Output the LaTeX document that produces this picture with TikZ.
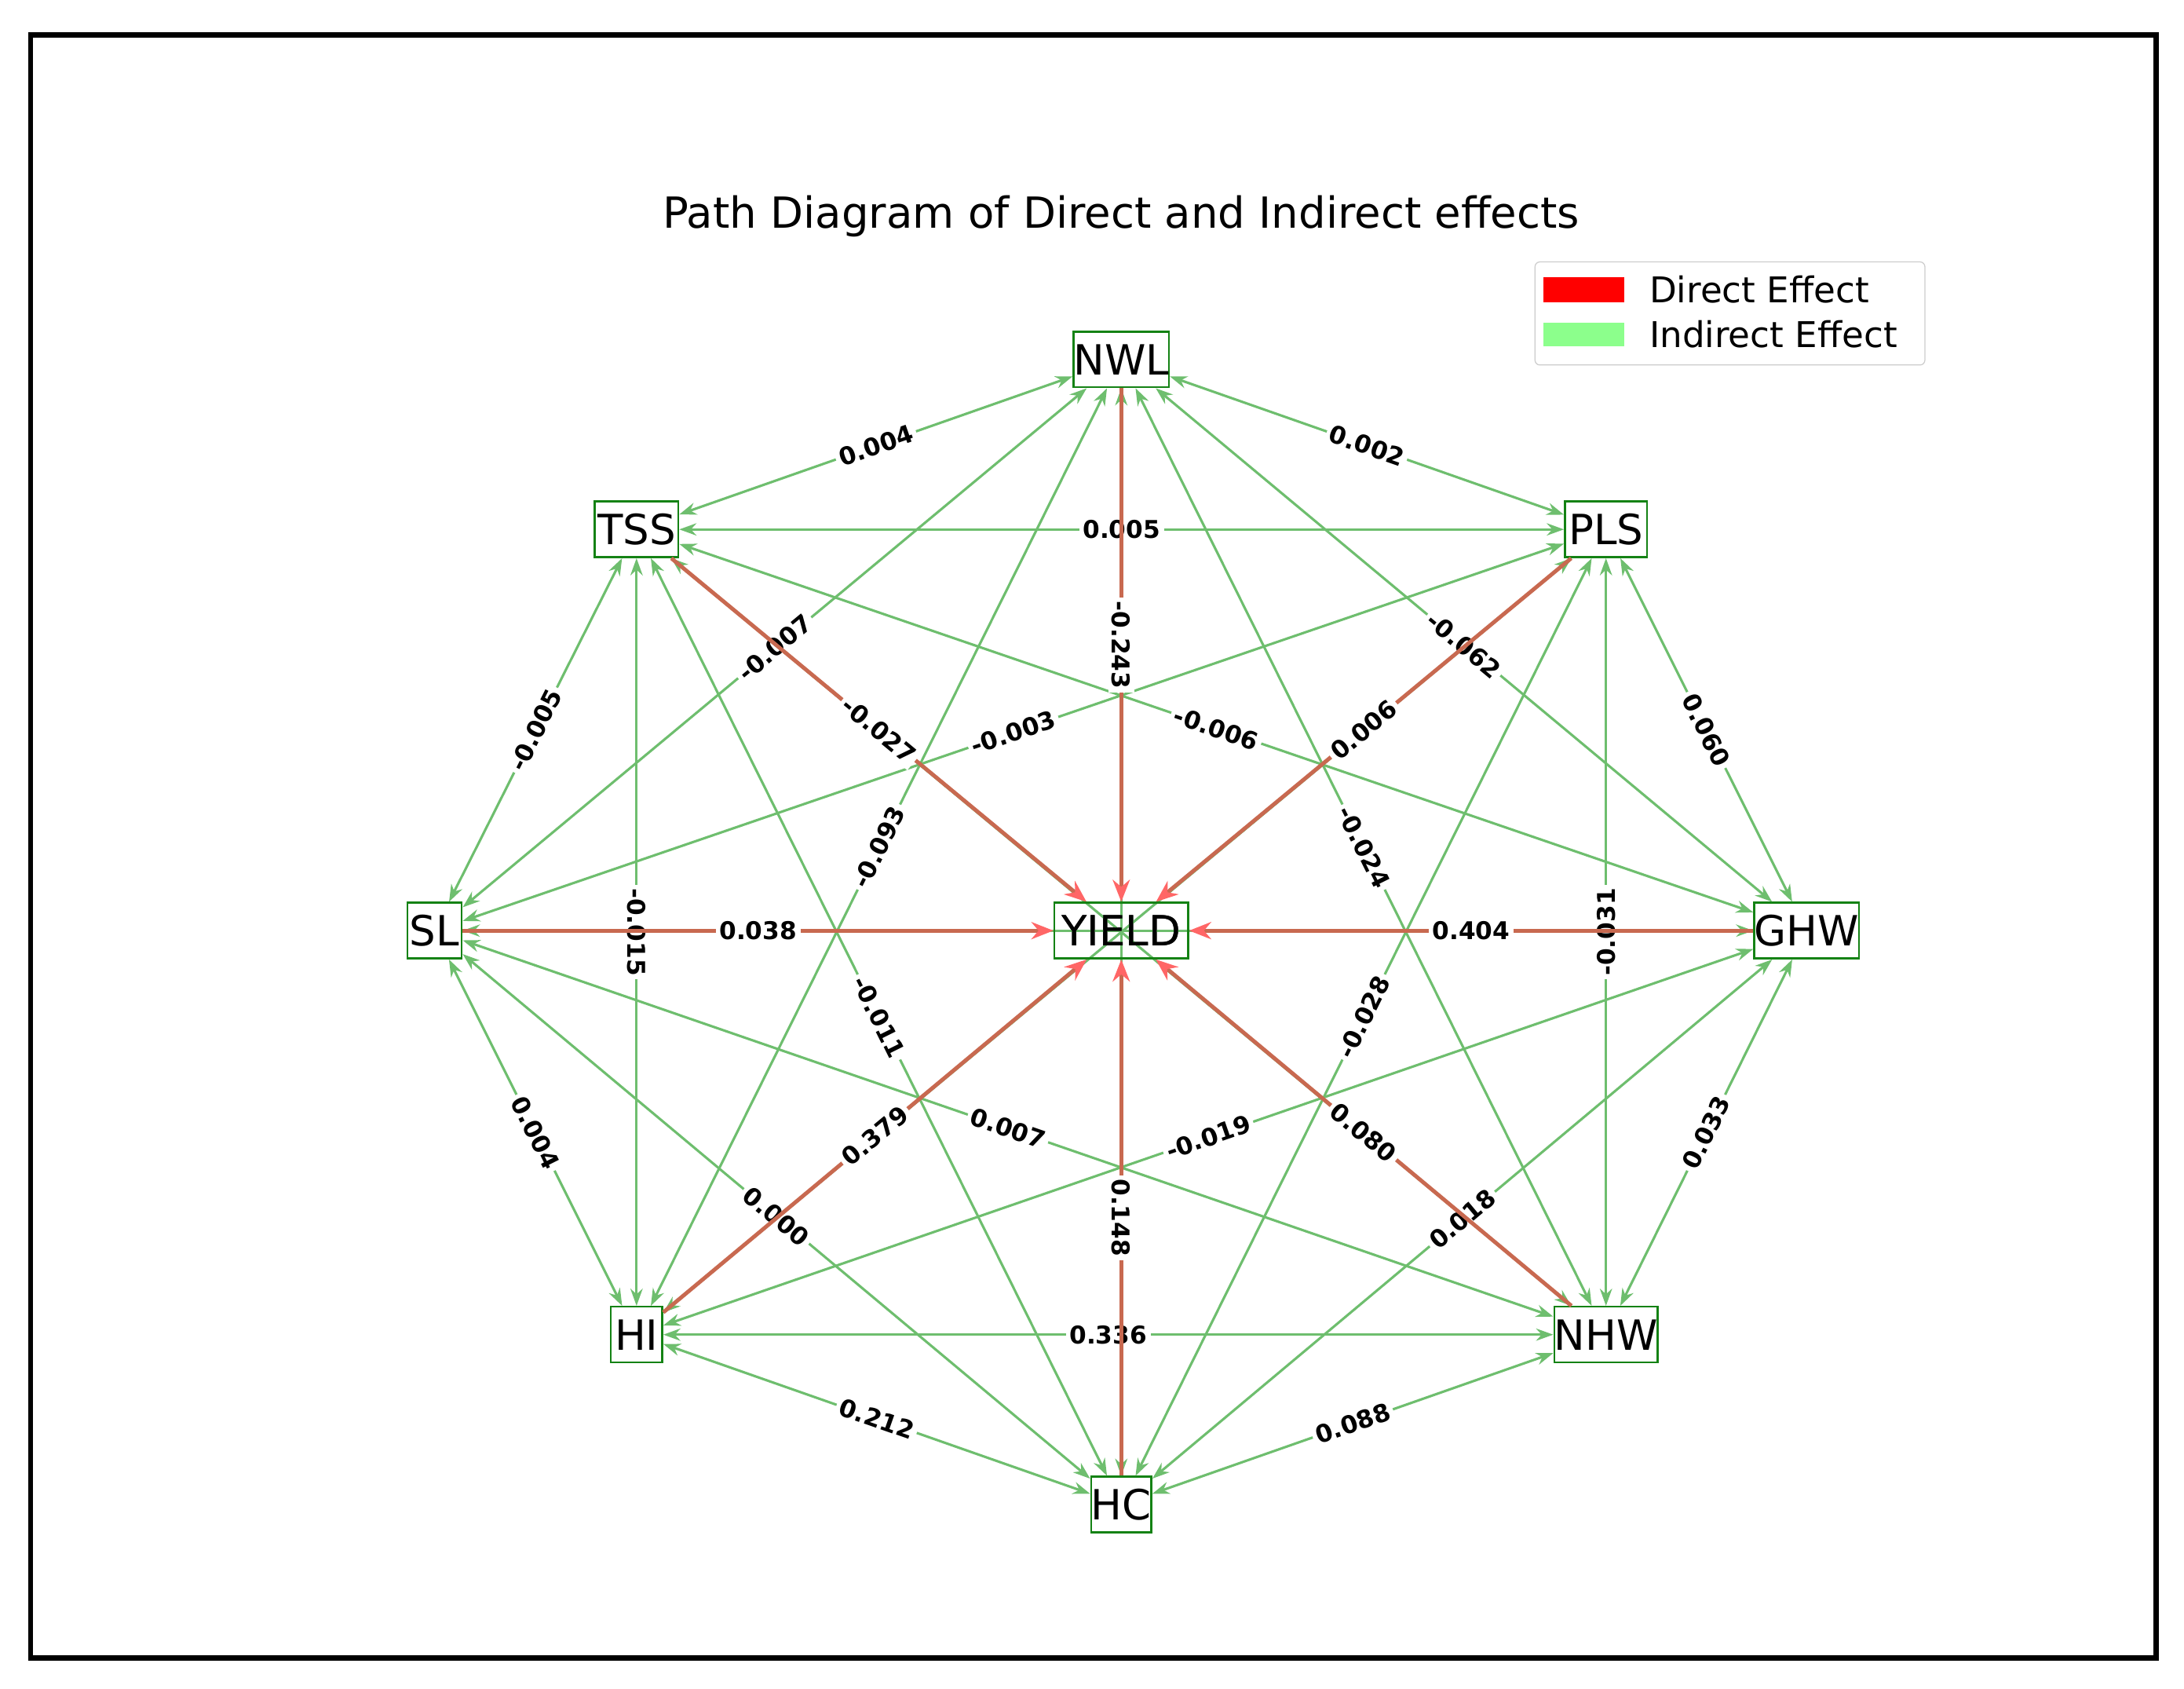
\documentclass[tikz,border=0pt]{standalone}
\usepackage{fontspec}
\setmainfont{DejaVu Sans}
\usetikzlibrary{arrows.meta}
\definecolor{ind}{RGB}{110,190,110}
\definecolor{dir}{RGB}{200,105,80}
\definecolor{box}{RGB}{20,130,20}
\begin{document}
\begin{tikzpicture}[x=0.02cm,y=-0.02cm,
 nd/.style={draw=box,line width=0.8pt,minimum height=0.8cm,inner sep=0pt,font=\fontsize{17}{17}\selectfont},
 ie/.style={draw=ind,line width=1pt,{Stealth[length=7pt,width=5pt]}-{Stealth[length=7pt,width=5pt]}},
 de/.style={draw=dir,line width=1.6pt,-{Stealth[length=9pt,width=7pt,color=red!60]}},
 lb/.style={midway,sloped,fill=white,inner sep=1.5pt,font=\bfseries\fontsize{10}{10}\selectfont}]
\useasboundingbox (0,0) rectangle (1568,1212);
\draw[line width=2.2pt] (22,25) rectangle (1548,1190);
\node[font=\fontsize{17.5}{17.5}\selectfont] (title) at (805,155) {Path Diagram of Direct and Indirect effects};
% legend
\node[draw=black!20,rounded corners=2pt,minimum width=5.6cm,minimum height=1.48cm] (leg) at (1242,225) {};
\node[fill=red,minimum width=1.16cm,minimum height=0.36cm,inner sep=0pt] (lr) at (1137,208) {};
\node[fill=green!45!white,minimum width=1.16cm,minimum height=0.34cm,inner sep=0pt] (lg) at (1137,240) {};
\node[anchor=west,font=\fontsize{14.5}{14.5}\selectfont] (lt1) at (1178,208) {Direct Effect};
\node[anchor=west,font=\fontsize{14.5}{14.5}\selectfont] (lt2) at (1178,240) {Indirect Effect};
% nodes
\node[nd,minimum width=1.18cm] (NWL) at (805,258) {NWL};
\node[nd,minimum width=1.18cm] (PLS) at (1153,380) {PLS};
\node[nd,minimum width=1.18cm] (GHW) at (1297,668) {GHW};
\node[nd,minimum width=1.2cm] (NHW) at (1153,958) {NHW};
\node[nd,minimum width=0.78cm] (HC) at (805,1080) {HC};
\node[nd,minimum width=0.74cm] (HI) at (457,958) {HI};
\node[nd,minimum width=0.78cm] (SL) at (312,668) {SL};
\node[nd,minimum width=1.2cm] (TSS) at (457,380) {TSS};
\node[nd,minimum width=1.92cm,fill=white] (Y) at (805,668) {YIELD};
% indirect edges
\draw[ie] (TSS) -- (NWL) node[lb]{0.004};
\draw[ie] (NWL) -- (PLS) node[lb]{0.002};
\draw[ie] (TSS) -- (PLS) node[lb]{0.005};
\draw[ie] (SL) -- (NWL) node[lb]{-0.007};
\draw[ie] (NWL) -- (GHW) node[lb]{-0.062};
\draw[ie] (SL) -- (PLS) node[lb]{-0.003};
\draw[ie] (TSS) -- (GHW) node[lb]{-0.006};
\draw[ie] (HI) -- (NWL) node[lb]{-0.093};
\draw[ie] (NWL) -- (NHW) node[lb]{-0.024};
\draw[ie] (SL) -- (TSS) node[lb]{-0.005};
\draw[ie] (PLS) -- (GHW) node[lb]{0.060};
\draw[ie] (TSS) -- (HI) node[lb]{-0.015};
\draw[ie] (PLS) -- (NHW) node[lb,rotate=180]{-0.031};
\draw[ie] (TSS) -- (HC) node[lb]{-0.011};
\draw[ie] (HC) -- (PLS) node[lb]{-0.028};
\draw[ie] (SL) -- (NHW) node[lb]{0.007};
\draw[ie] (HI) -- (GHW) node[lb]{-0.019};
\draw[ie] (SL) -- (HI) node[lb]{0.004};
\draw[ie] (NHW) -- (GHW) node[lb]{0.033};
\draw[ie] (SL) -- (HC) node[lb]{0.000};
\draw[ie] (HC) -- (GHW) node[lb]{0.018};
\draw[ie] (HI) -- (NHW) node[lb]{0.336};
\draw[ie] (HI) -- (HC) node[lb]{0.212};
\draw[ie] (HC) -- (NHW) node[lb]{0.088};
\draw[ie] (NWL) -- (HC);
\draw[ie] (TSS) -- (NHW);
\draw[ie] (PLS) -- (HI);
\draw[ie] (SL) -- (GHW);
% direct edges
\draw[de] (NWL) -- (Y) node[lb]{-0.243};
\draw[de] (PLS) -- (Y) node[lb]{0.006};
\draw[de] (GHW) -- (Y) node[lb]{0.404};
\draw[de] (NHW) -- (Y) node[lb]{0.080};
\draw[de] (HC) -- (Y) node[lb,rotate=180]{0.148};
\draw[de] (HI) -- (Y) node[lb]{0.379};
\draw[de] (SL) -- (Y) node[lb]{0.038};
\draw[de] (TSS) -- (Y) node[lb]{-0.027};
\node[nd,minimum width=1.92cm,fill=none] (Y2) at (805,668) {YIELD};
\end{tikzpicture}
\end{document}
